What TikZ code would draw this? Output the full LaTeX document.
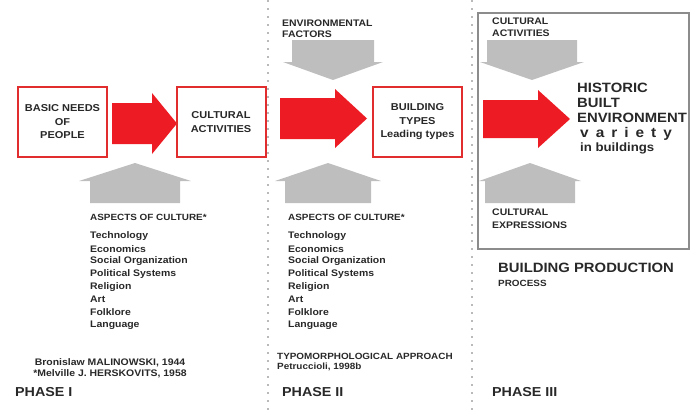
\documentclass[tikz,border=0pt]{standalone}
\usepackage{fontspec}
\setmainfont{Liberation Sans}[FakeStretch=1.1]
\newfontfamily\spacedfont{Liberation Sans}[FakeStretch=1.1, LetterSpace=50]
\usepackage{xcolor}

\definecolor{boxred}{RGB}{225,45,45}
\definecolor{arrowred}{RGB}{237,28,36}
\definecolor{arrowgray}{RGB}{190,190,190}
\definecolor{dotgray}{RGB}{185,185,185}
\definecolor{framegray}{RGB}{140,140,140}
\definecolor{txtgray}{RGB}{40,40,40}

\tikzset{
  redbox/.style={draw=boxred, line width=2pt, fill=white, minimum width=89pt, minimum height=70pt, inner sep=0pt},
  boxtxt/.style={font=\bfseries\fontsize{10}{13.5}\selectfont, align=center, text=txtgray},
  lbl/.style={font=\bfseries\fontsize{9.5}{11.5}\selectfont, anchor=west, inner sep=0pt, align=left, text=txtgray},
  listtxt/.style={font=\bfseries\fontsize{9.5}{11}\selectfont, anchor=west, inner sep=0pt, text=txtgray},
  phase/.style={font=\bfseries\fontsize{13}{15}\selectfont, anchor=west, inner sep=0pt, text=txtgray},
  redarrow/.style={fill=arrowred},
  grayarrow/.style={fill=arrowgray}
}

\begin{document}
\begin{tikzpicture}[x=1pt, y=-1pt]

  \useasboundingbox (0,0) rectangle (690,410);

  % Parameters
  \def\listtop{236}
  \def\listgap{12.7}

  % frame of phase III
  \draw[framegray, line width=1.2pt] (478,13) rectangle (689,249);

  % phase borders
  \foreach \x in {268,472} {
    \draw[dotgray, line width=2pt, dash pattern=on 2pt off 6pt] (\x,0) -- (\x,410);
  }

  % gray arrows from below
  \foreach \cx/\hw/\sw in {135/56/45, 328/53/43, 530/51/45} {
    \fill[grayarrow] (\cx-\sw,203) -- (\cx-\sw,181) -- (\cx-\hw,181) -- (\cx,163)
      -- (\cx+\hw,181) -- (\cx+\sw,181) -- (\cx+\sw,203) -- cycle;
  }

  % gray arrows from above
  \foreach \cx/\hw/\sw in {333/50/41, 532/52/45} {
    \fill[grayarrow] (\cx-\sw,40) -- (\cx-\sw,62) -- (\cx-\hw,62) -- (\cx,80)
      -- (\cx+\hw,62) -- (\cx+\sw,62) -- (\cx+\sw,40) -- cycle;
  }

  % red arrows
  \foreach \x/\y/\s/\h/\sw/\hw in {112/123.5/40/25/20.5/30.5, 280/118.5/55/32/20.5/29.5, 483/119/55/32/19/29} {
    \fill[redarrow] (\x,\y-\sw) -- (\x+\s,\y-\sw) -- (\x+\s,\y-\hw) -- (\x+\s+\h,\y)
      -- (\x+\s,\y+\hw) -- (\x+\s,\y+\sw) -- (\x,\y+\sw) -- cycle;
  }

  % red boxes
  \node[redbox, boxtxt] (needs) at (62.5,122) {BASIC NEEDS\\OF\\PEOPLE};
  \node[redbox, boxtxt] (activities) at (221,122) {CULTURAL\\ACTIVITIES};
  \node[redbox, boxtxt] (types) at (417.5,122) {BUILDING\\TYPES\\Leading types};

  % factors from above
  \node[lbl] (envfactors) at (282,28.5) {ENVIRONMENTAL\\FACTORS};
  \node[lbl] (cultact) at (492,27) {CULTURAL\\ACTIVITIES};
  \node[lbl, font=\bfseries\fontsize{9.5}{13}\selectfont] (cultexpr) at (492,218.5) {CULTURAL\\EXPRESSIONS};

  % result of phase III
  \node[lbl, font=\bfseries\fontsize{13.5}{15}\selectfont] (historic) at (577,103) {HISTORIC\\BUILT\\ENVIRONMENT};
  \node[lbl, font=\spacedfont\bfseries\fontsize{14}{16}\selectfont] (variety) at (580,134) {variety};
  \node[lbl, font=\bfseries\fontsize{12}{14}\selectfont] (inbuild) at (580,148) {in buildings};

  % aspects of culture
  \foreach \x/\n in {90/A, 288/B} {
    \node[listtxt, font=\bfseries\fontsize{9}{11}\selectfont] (aspects\n) at (\x,217) {ASPECTS OF CULTURE*};
    \foreach \t [count=\i] in {Technology, Economics, Social Organization, Political Systems, Religion, Art, Folklore, Language} {
      \node[listtxt] (item\n\i) at (\x,\listtop+\listgap*\i-\listgap) {\t};
    }
  }

  % sources
  \node[lbl, anchor=center, align=center] (malinowski) at (110,368.5) {Bronislaw MALINOWSKI, 1944\\*Melville J. HERSKOVITS, 1958};
  \node[lbl, font=\bfseries\fontsize{9}{10.5}\selectfont] (typo) at (277,362) {TYPOMORPHOLOGICAL APPROACH\\Petruccioli, 1998b};

  % building production
  \node[lbl, font=\bfseries\fontsize{13.5}{15}\selectfont] (production) at (498,268) {BUILDING PRODUCTION};
  \node[lbl, font=\bfseries\fontsize{9}{11}\selectfont] (process) at (498,283) {PROCESS};

  % phases
  \node[phase] (phaseI) at (15,392) {PHASE I};
  \node[phase] (phaseII) at (282,392) {PHASE II};
  \node[phase] (phaseIII) at (492,392) {PHASE III};

\end{tikzpicture}
\end{document}
